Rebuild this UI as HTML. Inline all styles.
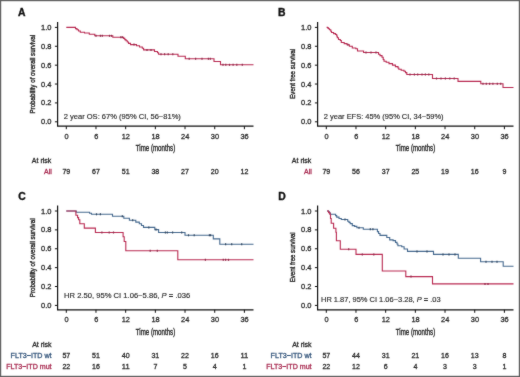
<!DOCTYPE html>
<html><head><meta charset="utf-8"><style>
html,body{margin:0;padding:0;background:#fff;}
#fig{position:relative;width:520px;height:377px;overflow:hidden;background:#fff;}
svg{position:absolute;left:0;top:0;font-family:"Liberation Sans", sans-serif;}
</style></head><body><div id="fig">
<svg width="520" height="377" viewBox="0 0 520 377">
<defs><filter id="bl" x="0" y="0" width="520" height="377" filterUnits="userSpaceOnUse" color-interpolation-filters="sRGB"><feConvolveMatrix order="3" kernelMatrix="1 2 1 2 28 2 1 2 1" edgeMode="duplicate"/></filter></defs>
<g filter="url(#bl)">
<rect x="0.5" y="0.5" width="519" height="376" fill="#fff" stroke="#626262" stroke-width="1.4"/>
<text x="17.90" y="15.50" font-size="10" text-anchor="start" fill="#111" stroke="#111" stroke-width="0.35" font-weight="bold" textLength="7.5" lengthAdjust="spacingAndGlyphs">A</text>
<path d="M57.60,22.00V126.20H253.50" fill="none" stroke="#101010" stroke-width="1.2"/>
<path d="M54.90,121.80H57.60" stroke="#101010" stroke-width="1"/>
<text x="51.50" y="124.30" font-size="7.5" text-anchor="end" fill="#2a2a2a" stroke="#2a2a2a" stroke-width="0.3" font-weight="normal">0.0</text>
<path d="M54.90,102.92H57.60" stroke="#101010" stroke-width="1"/>
<text x="51.50" y="105.42" font-size="7.5" text-anchor="end" fill="#2a2a2a" stroke="#2a2a2a" stroke-width="0.3" font-weight="normal">0.2</text>
<path d="M54.90,84.04H57.60" stroke="#101010" stroke-width="1"/>
<text x="51.50" y="86.54" font-size="7.5" text-anchor="end" fill="#2a2a2a" stroke="#2a2a2a" stroke-width="0.3" font-weight="normal">0.4</text>
<path d="M54.90,65.16H57.60" stroke="#101010" stroke-width="1"/>
<text x="51.50" y="67.66" font-size="7.5" text-anchor="end" fill="#2a2a2a" stroke="#2a2a2a" stroke-width="0.3" font-weight="normal">0.6</text>
<path d="M54.90,46.28H57.60" stroke="#101010" stroke-width="1"/>
<text x="51.50" y="48.78" font-size="7.5" text-anchor="end" fill="#2a2a2a" stroke="#2a2a2a" stroke-width="0.3" font-weight="normal">0.8</text>
<path d="M54.90,27.40H57.60" stroke="#101010" stroke-width="1"/>
<text x="51.50" y="29.90" font-size="7.5" text-anchor="end" fill="#2a2a2a" stroke="#2a2a2a" stroke-width="0.3" font-weight="normal">1.0</text>
<path d="M66.30,126.20V129.20" stroke="#101010" stroke-width="1"/>
<text x="66.50" y="138.80" font-size="8.1" text-anchor="middle" fill="#2a2a2a" stroke="#2a2a2a" stroke-width="0.3" font-weight="normal" textLength="4.11" lengthAdjust="spacingAndGlyphs">0</text>
<path d="M95.98,126.20V129.20" stroke="#101010" stroke-width="1"/>
<text x="96.18" y="138.80" font-size="8.1" text-anchor="middle" fill="#2a2a2a" stroke="#2a2a2a" stroke-width="0.3" font-weight="normal" textLength="4.11" lengthAdjust="spacingAndGlyphs">6</text>
<path d="M125.67,126.20V129.20" stroke="#101010" stroke-width="1"/>
<text x="125.87" y="138.80" font-size="8.1" text-anchor="middle" fill="#2a2a2a" stroke="#2a2a2a" stroke-width="0.3" font-weight="normal" textLength="8.23" lengthAdjust="spacingAndGlyphs">12</text>
<path d="M155.35,126.20V129.20" stroke="#101010" stroke-width="1"/>
<text x="155.55" y="138.80" font-size="8.1" text-anchor="middle" fill="#2a2a2a" stroke="#2a2a2a" stroke-width="0.3" font-weight="normal" textLength="8.23" lengthAdjust="spacingAndGlyphs">18</text>
<path d="M185.03,126.20V129.20" stroke="#101010" stroke-width="1"/>
<text x="185.23" y="138.80" font-size="8.1" text-anchor="middle" fill="#2a2a2a" stroke="#2a2a2a" stroke-width="0.3" font-weight="normal" textLength="8.23" lengthAdjust="spacingAndGlyphs">24</text>
<path d="M214.72,126.20V129.20" stroke="#101010" stroke-width="1"/>
<text x="214.92" y="138.80" font-size="8.1" text-anchor="middle" fill="#2a2a2a" stroke="#2a2a2a" stroke-width="0.3" font-weight="normal" textLength="8.23" lengthAdjust="spacingAndGlyphs">30</text>
<path d="M244.40,126.20V129.20" stroke="#101010" stroke-width="1"/>
<text x="244.60" y="138.80" font-size="8.1" text-anchor="middle" fill="#2a2a2a" stroke="#2a2a2a" stroke-width="0.3" font-weight="normal" textLength="8.23" lengthAdjust="spacingAndGlyphs">36</text>
<text x="155.50" y="151.00" font-size="8.6" text-anchor="middle" fill="#2a2a2a" stroke="#2a2a2a" stroke-width="0.38" font-weight="normal" textLength="39.4" lengthAdjust="spacingAndGlyphs">Time (months)</text>
<text x="0" y="0" font-size="7.4" text-anchor="middle" fill="#2a2a2a" stroke="#2a2a2a" stroke-width="0.4" textLength="78.7" lengthAdjust="spacingAndGlyphs" transform="translate(35.30,74.20) rotate(-90)">Probability of overall survival</text>
<path d="M66.30,27.40H75.50V28.60H77.00V29.80H78.50V31.00H80.30V32.20H84.50V33.00H89.30V34.20H94.80V35.80H112.80V37.20H123.60V38.40H124.80V39.60H126.00V40.80H127.30V42.00H128.50V43.40H130.50V44.60H136.50V45.80H139.50V47.00H142.30V48.30H143.60V49.90H154.50V51.50H157.50V52.80H158.60V54.20H178.00V56.30H185.30V58.70H214.00V61.50H220.50V64.80H253.50" fill="none" stroke="#b92a52" stroke-width="1.1" stroke-linejoin="miter"/>
<path d="M96.00,34.80V36.80" stroke="#8e2848" stroke-width="1.2"/>
<path d="M100.40,34.80V36.80" stroke="#8e2848" stroke-width="1.2"/>
<path d="M102.30,34.80V36.80" stroke="#8e2848" stroke-width="1.2"/>
<path d="M109.50,34.80V36.80" stroke="#8e2848" stroke-width="1.2"/>
<path d="M111.50,34.80V36.80" stroke="#8e2848" stroke-width="1.2"/>
<path d="M120.80,36.20V38.20" stroke="#8e2848" stroke-width="1.2"/>
<path d="M122.30,36.20V38.20" stroke="#8e2848" stroke-width="1.2"/>
<path d="M134.00,43.60V45.60" stroke="#8e2848" stroke-width="1.2"/>
<path d="M147.00,48.90V50.90" stroke="#8e2848" stroke-width="1.2"/>
<path d="M151.00,48.90V50.90" stroke="#8e2848" stroke-width="1.2"/>
<path d="M161.00,53.20V55.20" stroke="#8e2848" stroke-width="1.2"/>
<path d="M164.60,53.20V55.20" stroke="#8e2848" stroke-width="1.2"/>
<path d="M168.20,53.20V55.20" stroke="#8e2848" stroke-width="1.2"/>
<path d="M172.80,53.20V55.20" stroke="#8e2848" stroke-width="1.2"/>
<path d="M189.20,57.70V59.70" stroke="#8e2848" stroke-width="1.2"/>
<path d="M195.60,57.70V59.70" stroke="#8e2848" stroke-width="1.2"/>
<path d="M202.00,57.70V59.70" stroke="#8e2848" stroke-width="1.2"/>
<path d="M208.40,57.70V59.70" stroke="#8e2848" stroke-width="1.2"/>
<path d="M210.30,57.70V59.70" stroke="#8e2848" stroke-width="1.2"/>
<path d="M223.00,63.80V65.80" stroke="#8e2848" stroke-width="1.2"/>
<path d="M225.80,63.80V65.80" stroke="#8e2848" stroke-width="1.2"/>
<path d="M229.50,63.80V65.80" stroke="#8e2848" stroke-width="1.2"/>
<path d="M233.10,63.80V65.80" stroke="#8e2848" stroke-width="1.2"/>
<path d="M236.80,63.80V65.80" stroke="#8e2848" stroke-width="1.2"/>
<path d="M242.30,63.80V65.80" stroke="#8e2848" stroke-width="1.2"/>
<text x="63.70" y="119.20" font-size="7.5" text-anchor="start" fill="#2a2a2a" stroke="#2a2a2a" stroke-width="0.15" font-weight="normal" textLength="117.2" lengthAdjust="spacingAndGlyphs">2 year OS: 67% (95% CI, 56−81%)</text>
<text x="51.30" y="163.00" font-size="7" text-anchor="end" fill="#2a2a2a" stroke="#2a2a2a" stroke-width="0.3" font-weight="normal">At risk</text>
<text x="51.90" y="174.00" font-size="7" text-anchor="end" fill="#a82a50" stroke="#a82a50" stroke-width="0.3" font-weight="normal">All</text>
<text x="66.30" y="174.00" font-size="7.5" text-anchor="middle" fill="#2a2a2a" stroke="#2a2a2a" stroke-width="0.3" font-weight="normal" textLength="7.84" lengthAdjust="spacingAndGlyphs">79</text>
<text x="95.98" y="174.00" font-size="7.5" text-anchor="middle" fill="#2a2a2a" stroke="#2a2a2a" stroke-width="0.3" font-weight="normal" textLength="7.84" lengthAdjust="spacingAndGlyphs">67</text>
<text x="125.67" y="174.00" font-size="7.5" text-anchor="middle" fill="#2a2a2a" stroke="#2a2a2a" stroke-width="0.3" font-weight="normal" textLength="7.84" lengthAdjust="spacingAndGlyphs">51</text>
<text x="155.35" y="174.00" font-size="7.5" text-anchor="middle" fill="#2a2a2a" stroke="#2a2a2a" stroke-width="0.3" font-weight="normal" textLength="7.84" lengthAdjust="spacingAndGlyphs">38</text>
<text x="185.03" y="174.00" font-size="7.5" text-anchor="middle" fill="#2a2a2a" stroke="#2a2a2a" stroke-width="0.3" font-weight="normal" textLength="7.84" lengthAdjust="spacingAndGlyphs">27</text>
<text x="214.72" y="174.00" font-size="7.5" text-anchor="middle" fill="#2a2a2a" stroke="#2a2a2a" stroke-width="0.3" font-weight="normal" textLength="7.84" lengthAdjust="spacingAndGlyphs">20</text>
<text x="244.40" y="174.00" font-size="7.5" text-anchor="middle" fill="#2a2a2a" stroke="#2a2a2a" stroke-width="0.3" font-weight="normal" textLength="7.84" lengthAdjust="spacingAndGlyphs">12</text>
<text x="278.00" y="15.70" font-size="10" text-anchor="start" fill="#111" stroke="#111" stroke-width="0.35" font-weight="bold" textLength="7.5" lengthAdjust="spacingAndGlyphs">B</text>
<path d="M317.60,22.00V126.20H513.50" fill="none" stroke="#101010" stroke-width="1.2"/>
<path d="M314.90,121.80H317.60" stroke="#101010" stroke-width="1"/>
<text x="311.50" y="124.30" font-size="7.5" text-anchor="end" fill="#2a2a2a" stroke="#2a2a2a" stroke-width="0.3" font-weight="normal">0.0</text>
<path d="M314.90,102.92H317.60" stroke="#101010" stroke-width="1"/>
<text x="311.50" y="105.42" font-size="7.5" text-anchor="end" fill="#2a2a2a" stroke="#2a2a2a" stroke-width="0.3" font-weight="normal">0.2</text>
<path d="M314.90,84.04H317.60" stroke="#101010" stroke-width="1"/>
<text x="311.50" y="86.54" font-size="7.5" text-anchor="end" fill="#2a2a2a" stroke="#2a2a2a" stroke-width="0.3" font-weight="normal">0.4</text>
<path d="M314.90,65.16H317.60" stroke="#101010" stroke-width="1"/>
<text x="311.50" y="67.66" font-size="7.5" text-anchor="end" fill="#2a2a2a" stroke="#2a2a2a" stroke-width="0.3" font-weight="normal">0.6</text>
<path d="M314.90,46.28H317.60" stroke="#101010" stroke-width="1"/>
<text x="311.50" y="48.78" font-size="7.5" text-anchor="end" fill="#2a2a2a" stroke="#2a2a2a" stroke-width="0.3" font-weight="normal">0.8</text>
<path d="M314.90,27.40H317.60" stroke="#101010" stroke-width="1"/>
<text x="311.50" y="29.90" font-size="7.5" text-anchor="end" fill="#2a2a2a" stroke="#2a2a2a" stroke-width="0.3" font-weight="normal">1.0</text>
<path d="M326.30,126.20V129.20" stroke="#101010" stroke-width="1"/>
<text x="326.50" y="138.80" font-size="8.1" text-anchor="middle" fill="#2a2a2a" stroke="#2a2a2a" stroke-width="0.3" font-weight="normal" textLength="4.11" lengthAdjust="spacingAndGlyphs">0</text>
<path d="M355.98,126.20V129.20" stroke="#101010" stroke-width="1"/>
<text x="356.18" y="138.80" font-size="8.1" text-anchor="middle" fill="#2a2a2a" stroke="#2a2a2a" stroke-width="0.3" font-weight="normal" textLength="4.11" lengthAdjust="spacingAndGlyphs">6</text>
<path d="M385.67,126.20V129.20" stroke="#101010" stroke-width="1"/>
<text x="385.87" y="138.80" font-size="8.1" text-anchor="middle" fill="#2a2a2a" stroke="#2a2a2a" stroke-width="0.3" font-weight="normal" textLength="8.23" lengthAdjust="spacingAndGlyphs">12</text>
<path d="M415.35,126.20V129.20" stroke="#101010" stroke-width="1"/>
<text x="415.55" y="138.80" font-size="8.1" text-anchor="middle" fill="#2a2a2a" stroke="#2a2a2a" stroke-width="0.3" font-weight="normal" textLength="8.23" lengthAdjust="spacingAndGlyphs">18</text>
<path d="M445.03,126.20V129.20" stroke="#101010" stroke-width="1"/>
<text x="445.23" y="138.80" font-size="8.1" text-anchor="middle" fill="#2a2a2a" stroke="#2a2a2a" stroke-width="0.3" font-weight="normal" textLength="8.23" lengthAdjust="spacingAndGlyphs">24</text>
<path d="M474.72,126.20V129.20" stroke="#101010" stroke-width="1"/>
<text x="474.92" y="138.80" font-size="8.1" text-anchor="middle" fill="#2a2a2a" stroke="#2a2a2a" stroke-width="0.3" font-weight="normal" textLength="8.23" lengthAdjust="spacingAndGlyphs">30</text>
<path d="M504.40,126.20V129.20" stroke="#101010" stroke-width="1"/>
<text x="504.60" y="138.80" font-size="8.1" text-anchor="middle" fill="#2a2a2a" stroke="#2a2a2a" stroke-width="0.3" font-weight="normal" textLength="8.23" lengthAdjust="spacingAndGlyphs">36</text>
<text x="415.50" y="151.00" font-size="8.6" text-anchor="middle" fill="#2a2a2a" stroke="#2a2a2a" stroke-width="0.38" font-weight="normal" textLength="39.4" lengthAdjust="spacingAndGlyphs">Time (months)</text>
<text x="0" y="0" font-size="7.4" text-anchor="middle" fill="#2a2a2a" stroke="#2a2a2a" stroke-width="0.4" textLength="50.0" lengthAdjust="spacingAndGlyphs" transform="translate(295.30,73.70) rotate(-90)">Event free survival</text>
<path d="M326.60,27.40H327.50V27.90H328.50V28.80H329.50V29.80H330.80V31.20H331.50V32.50H333.60V33.60H335.60V34.50H336.70V36.00H337.30V37.80H338.50V39.50H340.30V40.50H341.30V42.50H344.20V43.60H347.00V44.80H349.40V46.20H352.30V48.00H355.80V48.80H357.50V51.00H363.60V52.50H378.50V54.20H380.00V55.60H382.00V57.30H383.20V59.50H384.00V61.20H386.20V62.20H389.00V63.60H392.50V65.10H395.40V66.60H398.00V68.00H398.80V69.30H401.20V70.20H404.00V71.20H405.50V72.60H406.80V74.50H432.50V78.50H458.00V81.40H480.80V83.80H503.00V87.50H513.50" fill="none" stroke="#b92a52" stroke-width="1.1" stroke-linejoin="miter"/>
<path d="M348.00,43.80V45.80" stroke="#8e2848" stroke-width="1.2"/>
<path d="M366.00,51.50V53.50" stroke="#8e2848" stroke-width="1.2"/>
<path d="M371.00,51.50V53.50" stroke="#8e2848" stroke-width="1.2"/>
<path d="M376.00,51.50V53.50" stroke="#8e2848" stroke-width="1.2"/>
<path d="M410.00,73.50V75.50" stroke="#8e2848" stroke-width="1.2"/>
<path d="M414.40,73.50V75.50" stroke="#8e2848" stroke-width="1.2"/>
<path d="M417.70,73.50V75.50" stroke="#8e2848" stroke-width="1.2"/>
<path d="M422.00,73.50V75.50" stroke="#8e2848" stroke-width="1.2"/>
<path d="M425.40,73.50V75.50" stroke="#8e2848" stroke-width="1.2"/>
<path d="M428.80,73.50V75.50" stroke="#8e2848" stroke-width="1.2"/>
<path d="M436.50,77.50V79.50" stroke="#8e2848" stroke-width="1.2"/>
<path d="M441.00,77.50V79.50" stroke="#8e2848" stroke-width="1.2"/>
<path d="M445.40,77.50V79.50" stroke="#8e2848" stroke-width="1.2"/>
<path d="M449.80,77.50V79.50" stroke="#8e2848" stroke-width="1.2"/>
<path d="M454.20,77.50V79.50" stroke="#8e2848" stroke-width="1.2"/>
<path d="M483.00,82.80V84.80" stroke="#8e2848" stroke-width="1.2"/>
<path d="M486.30,82.80V84.80" stroke="#8e2848" stroke-width="1.2"/>
<path d="M489.60,82.80V84.80" stroke="#8e2848" stroke-width="1.2"/>
<path d="M492.90,82.80V84.80" stroke="#8e2848" stroke-width="1.2"/>
<path d="M497.30,82.80V84.80" stroke="#8e2848" stroke-width="1.2"/>
<path d="M500.70,82.80V84.80" stroke="#8e2848" stroke-width="1.2"/>
<text x="323.80" y="118.70" font-size="7.5" text-anchor="start" fill="#2a2a2a" stroke="#2a2a2a" stroke-width="0.15" font-weight="normal" textLength="119.8" lengthAdjust="spacingAndGlyphs">2 year EFS: 45% (95% CI, 34−59%)</text>
<text x="311.30" y="163.00" font-size="7" text-anchor="end" fill="#2a2a2a" stroke="#2a2a2a" stroke-width="0.3" font-weight="normal">At risk</text>
<text x="311.90" y="174.00" font-size="7" text-anchor="end" fill="#a82a50" stroke="#a82a50" stroke-width="0.3" font-weight="normal">All</text>
<text x="326.30" y="174.00" font-size="7.5" text-anchor="middle" fill="#2a2a2a" stroke="#2a2a2a" stroke-width="0.3" font-weight="normal" textLength="7.84" lengthAdjust="spacingAndGlyphs">79</text>
<text x="355.98" y="174.00" font-size="7.5" text-anchor="middle" fill="#2a2a2a" stroke="#2a2a2a" stroke-width="0.3" font-weight="normal" textLength="7.84" lengthAdjust="spacingAndGlyphs">56</text>
<text x="385.67" y="174.00" font-size="7.5" text-anchor="middle" fill="#2a2a2a" stroke="#2a2a2a" stroke-width="0.3" font-weight="normal" textLength="7.84" lengthAdjust="spacingAndGlyphs">37</text>
<text x="415.35" y="174.00" font-size="7.5" text-anchor="middle" fill="#2a2a2a" stroke="#2a2a2a" stroke-width="0.3" font-weight="normal" textLength="7.84" lengthAdjust="spacingAndGlyphs">25</text>
<text x="445.03" y="174.00" font-size="7.5" text-anchor="middle" fill="#2a2a2a" stroke="#2a2a2a" stroke-width="0.3" font-weight="normal" textLength="7.84" lengthAdjust="spacingAndGlyphs">19</text>
<text x="474.72" y="174.00" font-size="7.5" text-anchor="middle" fill="#2a2a2a" stroke="#2a2a2a" stroke-width="0.3" font-weight="normal" textLength="7.84" lengthAdjust="spacingAndGlyphs">16</text>
<text x="504.40" y="174.00" font-size="7.5" text-anchor="middle" fill="#2a2a2a" stroke="#2a2a2a" stroke-width="0.3" font-weight="normal" textLength="3.92" lengthAdjust="spacingAndGlyphs">9</text>
<text x="18.20" y="200.00" font-size="10" text-anchor="start" fill="#111" stroke="#111" stroke-width="0.35" font-weight="bold" textLength="7.5" lengthAdjust="spacingAndGlyphs">C</text>
<path d="M57.60,205.60V309.80H253.50" fill="none" stroke="#101010" stroke-width="1.2"/>
<path d="M54.90,305.40H57.60" stroke="#101010" stroke-width="1"/>
<text x="51.50" y="307.90" font-size="7.5" text-anchor="end" fill="#2a2a2a" stroke="#2a2a2a" stroke-width="0.3" font-weight="normal">0.0</text>
<path d="M54.90,286.52H57.60" stroke="#101010" stroke-width="1"/>
<text x="51.50" y="289.02" font-size="7.5" text-anchor="end" fill="#2a2a2a" stroke="#2a2a2a" stroke-width="0.3" font-weight="normal">0.2</text>
<path d="M54.90,267.64H57.60" stroke="#101010" stroke-width="1"/>
<text x="51.50" y="270.14" font-size="7.5" text-anchor="end" fill="#2a2a2a" stroke="#2a2a2a" stroke-width="0.3" font-weight="normal">0.4</text>
<path d="M54.90,248.76H57.60" stroke="#101010" stroke-width="1"/>
<text x="51.50" y="251.26" font-size="7.5" text-anchor="end" fill="#2a2a2a" stroke="#2a2a2a" stroke-width="0.3" font-weight="normal">0.6</text>
<path d="M54.90,229.88H57.60" stroke="#101010" stroke-width="1"/>
<text x="51.50" y="232.38" font-size="7.5" text-anchor="end" fill="#2a2a2a" stroke="#2a2a2a" stroke-width="0.3" font-weight="normal">0.8</text>
<path d="M54.90,211.00H57.60" stroke="#101010" stroke-width="1"/>
<text x="51.50" y="213.50" font-size="7.5" text-anchor="end" fill="#2a2a2a" stroke="#2a2a2a" stroke-width="0.3" font-weight="normal">1.0</text>
<path d="M66.30,309.80V312.80" stroke="#101010" stroke-width="1"/>
<text x="66.50" y="322.40" font-size="8.1" text-anchor="middle" fill="#2a2a2a" stroke="#2a2a2a" stroke-width="0.3" font-weight="normal" textLength="4.11" lengthAdjust="spacingAndGlyphs">0</text>
<path d="M95.98,309.80V312.80" stroke="#101010" stroke-width="1"/>
<text x="96.18" y="322.40" font-size="8.1" text-anchor="middle" fill="#2a2a2a" stroke="#2a2a2a" stroke-width="0.3" font-weight="normal" textLength="4.11" lengthAdjust="spacingAndGlyphs">6</text>
<path d="M125.67,309.80V312.80" stroke="#101010" stroke-width="1"/>
<text x="125.87" y="322.40" font-size="8.1" text-anchor="middle" fill="#2a2a2a" stroke="#2a2a2a" stroke-width="0.3" font-weight="normal" textLength="8.23" lengthAdjust="spacingAndGlyphs">12</text>
<path d="M155.35,309.80V312.80" stroke="#101010" stroke-width="1"/>
<text x="155.55" y="322.40" font-size="8.1" text-anchor="middle" fill="#2a2a2a" stroke="#2a2a2a" stroke-width="0.3" font-weight="normal" textLength="8.23" lengthAdjust="spacingAndGlyphs">18</text>
<path d="M185.03,309.80V312.80" stroke="#101010" stroke-width="1"/>
<text x="185.23" y="322.40" font-size="8.1" text-anchor="middle" fill="#2a2a2a" stroke="#2a2a2a" stroke-width="0.3" font-weight="normal" textLength="8.23" lengthAdjust="spacingAndGlyphs">24</text>
<path d="M214.72,309.80V312.80" stroke="#101010" stroke-width="1"/>
<text x="214.92" y="322.40" font-size="8.1" text-anchor="middle" fill="#2a2a2a" stroke="#2a2a2a" stroke-width="0.3" font-weight="normal" textLength="8.23" lengthAdjust="spacingAndGlyphs">30</text>
<path d="M244.40,309.80V312.80" stroke="#101010" stroke-width="1"/>
<text x="244.60" y="322.40" font-size="8.1" text-anchor="middle" fill="#2a2a2a" stroke="#2a2a2a" stroke-width="0.3" font-weight="normal" textLength="8.23" lengthAdjust="spacingAndGlyphs">36</text>
<text x="155.50" y="334.60" font-size="8.6" text-anchor="middle" fill="#2a2a2a" stroke="#2a2a2a" stroke-width="0.38" font-weight="normal" textLength="39.4" lengthAdjust="spacingAndGlyphs">Time (months)</text>
<text x="0" y="0" font-size="7.4" text-anchor="middle" fill="#2a2a2a" stroke="#2a2a2a" stroke-width="0.4" textLength="78.7" lengthAdjust="spacingAndGlyphs" transform="translate(35.30,257.80) rotate(-90)">Probability of overall survival</text>
<path d="M66.30,211.00H76.20V212.30H89.60V213.30H91.50V214.30H112.50V216.20H123.80V218.20H129.40V220.20H135.80V222.10H139.30V223.70H141.50V225.50H143.50V227.40H154.80V229.60H158.60V232.50H185.00V235.30H213.30V238.90H219.80V244.20H253.50" fill="none" stroke="#45698f" stroke-width="1.1" stroke-linejoin="miter"/>
<path d="M96.50,213.30V215.30" stroke="#2f4660" stroke-width="1.2"/>
<path d="M100.40,213.30V215.30" stroke="#2f4660" stroke-width="1.2"/>
<path d="M122.30,215.20V217.20" stroke="#2f4660" stroke-width="1.2"/>
<path d="M132.70,219.20V221.20" stroke="#2f4660" stroke-width="1.2"/>
<path d="M148.80,226.40V228.40" stroke="#2f4660" stroke-width="1.2"/>
<path d="M156.00,228.60V230.60" stroke="#2f4660" stroke-width="1.2"/>
<path d="M165.40,231.50V233.50" stroke="#2f4660" stroke-width="1.2"/>
<path d="M167.30,231.50V233.50" stroke="#2f4660" stroke-width="1.2"/>
<path d="M172.60,231.50V233.50" stroke="#2f4660" stroke-width="1.2"/>
<path d="M181.70,231.50V233.50" stroke="#2f4660" stroke-width="1.2"/>
<path d="M188.50,234.30V236.30" stroke="#2f4660" stroke-width="1.2"/>
<path d="M194.20,234.30V236.30" stroke="#2f4660" stroke-width="1.2"/>
<path d="M209.40,234.30V236.30" stroke="#2f4660" stroke-width="1.2"/>
<path d="M210.60,234.30V236.30" stroke="#2f4660" stroke-width="1.2"/>
<path d="M225.60,243.20V245.20" stroke="#2f4660" stroke-width="1.2"/>
<path d="M231.70,243.20V245.20" stroke="#2f4660" stroke-width="1.2"/>
<path d="M241.70,243.20V245.20" stroke="#2f4660" stroke-width="1.2"/>
<path d="M66.30,211.00H75.90V215.20H77.60V217.60H78.60V219.80H79.80V223.80H84.30V228.10H95.40V232.50H123.10V236.80H124.20V241.50H125.80V250.70H177.80V259.80H253.50" fill="none" stroke="#b92a52" stroke-width="1.1" stroke-linejoin="miter"/>
<path d="M101.90,231.50V233.50" stroke="#8e2848" stroke-width="1.2"/>
<path d="M109.20,231.50V233.50" stroke="#8e2848" stroke-width="1.2"/>
<path d="M113.50,231.50V233.50" stroke="#8e2848" stroke-width="1.2"/>
<path d="M150.20,249.70V251.70" stroke="#8e2848" stroke-width="1.2"/>
<path d="M157.30,249.70V251.70" stroke="#8e2848" stroke-width="1.2"/>
<path d="M205.40,258.80V260.80" stroke="#8e2848" stroke-width="1.2"/>
<path d="M223.30,258.80V260.80" stroke="#8e2848" stroke-width="1.2"/>
<path d="M225.60,258.80V260.80" stroke="#8e2848" stroke-width="1.2"/>
<path d="M228.50,258.80V260.80" stroke="#8e2848" stroke-width="1.2"/>
<text x="64.10" y="297.70" font-size="7.5" text-anchor="start" fill="#2a2a2a" stroke="#2a2a2a" stroke-width="0.15" font-weight="normal" textLength="126.1" lengthAdjust="spacingAndGlyphs">HR 2.50, 95% CI 1.06−5.86, <tspan font-style="italic">P</tspan> <tspan font-weight="bold">=</tspan> .036</text>
<text x="51.60" y="346.50" font-size="7" text-anchor="end" fill="#2a2a2a" stroke="#2a2a2a" stroke-width="0.3" font-weight="normal">At risk</text>
<text x="51.60" y="357.70" font-size="7.5" text-anchor="end" fill="#35567c" stroke="#35567c" stroke-width="0.3" font-weight="normal" textLength="41.0" lengthAdjust="spacingAndGlyphs">FLT3−ITD wt</text>
<text x="51.60" y="368.70" font-size="7.5" text-anchor="end" fill="#a82a50" stroke="#a82a50" stroke-width="0.3" font-weight="normal" textLength="45.4" lengthAdjust="spacingAndGlyphs">FLT3−ITD mut</text>
<text x="66.30" y="357.80" font-size="7.5" text-anchor="middle" fill="#2a2a2a" stroke="#2a2a2a" stroke-width="0.3" font-weight="normal" textLength="7.84" lengthAdjust="spacingAndGlyphs">57</text>
<text x="95.98" y="357.80" font-size="7.5" text-anchor="middle" fill="#2a2a2a" stroke="#2a2a2a" stroke-width="0.3" font-weight="normal" textLength="7.84" lengthAdjust="spacingAndGlyphs">51</text>
<text x="125.67" y="357.80" font-size="7.5" text-anchor="middle" fill="#2a2a2a" stroke="#2a2a2a" stroke-width="0.3" font-weight="normal" textLength="7.84" lengthAdjust="spacingAndGlyphs">40</text>
<text x="155.35" y="357.80" font-size="7.5" text-anchor="middle" fill="#2a2a2a" stroke="#2a2a2a" stroke-width="0.3" font-weight="normal" textLength="7.84" lengthAdjust="spacingAndGlyphs">31</text>
<text x="185.03" y="357.80" font-size="7.5" text-anchor="middle" fill="#2a2a2a" stroke="#2a2a2a" stroke-width="0.3" font-weight="normal" textLength="7.84" lengthAdjust="spacingAndGlyphs">22</text>
<text x="214.72" y="357.80" font-size="7.5" text-anchor="middle" fill="#2a2a2a" stroke="#2a2a2a" stroke-width="0.3" font-weight="normal" textLength="7.84" lengthAdjust="spacingAndGlyphs">16</text>
<text x="244.40" y="357.80" font-size="7.5" text-anchor="middle" fill="#2a2a2a" stroke="#2a2a2a" stroke-width="0.3" font-weight="normal" textLength="7.84" lengthAdjust="spacingAndGlyphs">11</text>
<text x="66.30" y="368.90" font-size="7.5" text-anchor="middle" fill="#2a2a2a" stroke="#2a2a2a" stroke-width="0.3" font-weight="normal" textLength="7.84" lengthAdjust="spacingAndGlyphs">22</text>
<text x="95.98" y="368.90" font-size="7.5" text-anchor="middle" fill="#2a2a2a" stroke="#2a2a2a" stroke-width="0.3" font-weight="normal" textLength="7.84" lengthAdjust="spacingAndGlyphs">16</text>
<text x="125.67" y="368.90" font-size="7.5" text-anchor="middle" fill="#2a2a2a" stroke="#2a2a2a" stroke-width="0.3" font-weight="normal" textLength="7.84" lengthAdjust="spacingAndGlyphs">11</text>
<text x="155.35" y="368.90" font-size="7.5" text-anchor="middle" fill="#2a2a2a" stroke="#2a2a2a" stroke-width="0.3" font-weight="normal" textLength="3.92" lengthAdjust="spacingAndGlyphs">7</text>
<text x="185.03" y="368.90" font-size="7.5" text-anchor="middle" fill="#2a2a2a" stroke="#2a2a2a" stroke-width="0.3" font-weight="normal" textLength="3.92" lengthAdjust="spacingAndGlyphs">5</text>
<text x="214.72" y="368.90" font-size="7.5" text-anchor="middle" fill="#2a2a2a" stroke="#2a2a2a" stroke-width="0.3" font-weight="normal" textLength="3.92" lengthAdjust="spacingAndGlyphs">4</text>
<text x="244.40" y="368.90" font-size="7.5" text-anchor="middle" fill="#2a2a2a" stroke="#2a2a2a" stroke-width="0.3" font-weight="normal" textLength="3.92" lengthAdjust="spacingAndGlyphs">1</text>
<text x="278.20" y="200.00" font-size="10" text-anchor="start" fill="#111" stroke="#111" stroke-width="0.35" font-weight="bold" textLength="7.5" lengthAdjust="spacingAndGlyphs">D</text>
<path d="M317.60,205.60V309.80H513.50" fill="none" stroke="#101010" stroke-width="1.2"/>
<path d="M314.90,305.40H317.60" stroke="#101010" stroke-width="1"/>
<text x="311.50" y="307.90" font-size="7.5" text-anchor="end" fill="#2a2a2a" stroke="#2a2a2a" stroke-width="0.3" font-weight="normal">0.0</text>
<path d="M314.90,286.52H317.60" stroke="#101010" stroke-width="1"/>
<text x="311.50" y="289.02" font-size="7.5" text-anchor="end" fill="#2a2a2a" stroke="#2a2a2a" stroke-width="0.3" font-weight="normal">0.2</text>
<path d="M314.90,267.64H317.60" stroke="#101010" stroke-width="1"/>
<text x="311.50" y="270.14" font-size="7.5" text-anchor="end" fill="#2a2a2a" stroke="#2a2a2a" stroke-width="0.3" font-weight="normal">0.4</text>
<path d="M314.90,248.76H317.60" stroke="#101010" stroke-width="1"/>
<text x="311.50" y="251.26" font-size="7.5" text-anchor="end" fill="#2a2a2a" stroke="#2a2a2a" stroke-width="0.3" font-weight="normal">0.6</text>
<path d="M314.90,229.88H317.60" stroke="#101010" stroke-width="1"/>
<text x="311.50" y="232.38" font-size="7.5" text-anchor="end" fill="#2a2a2a" stroke="#2a2a2a" stroke-width="0.3" font-weight="normal">0.8</text>
<path d="M314.90,211.00H317.60" stroke="#101010" stroke-width="1"/>
<text x="311.50" y="213.50" font-size="7.5" text-anchor="end" fill="#2a2a2a" stroke="#2a2a2a" stroke-width="0.3" font-weight="normal">1.0</text>
<path d="M326.30,309.80V312.80" stroke="#101010" stroke-width="1"/>
<text x="326.50" y="322.40" font-size="8.1" text-anchor="middle" fill="#2a2a2a" stroke="#2a2a2a" stroke-width="0.3" font-weight="normal" textLength="4.11" lengthAdjust="spacingAndGlyphs">0</text>
<path d="M355.98,309.80V312.80" stroke="#101010" stroke-width="1"/>
<text x="356.18" y="322.40" font-size="8.1" text-anchor="middle" fill="#2a2a2a" stroke="#2a2a2a" stroke-width="0.3" font-weight="normal" textLength="4.11" lengthAdjust="spacingAndGlyphs">6</text>
<path d="M385.67,309.80V312.80" stroke="#101010" stroke-width="1"/>
<text x="385.87" y="322.40" font-size="8.1" text-anchor="middle" fill="#2a2a2a" stroke="#2a2a2a" stroke-width="0.3" font-weight="normal" textLength="8.23" lengthAdjust="spacingAndGlyphs">12</text>
<path d="M415.35,309.80V312.80" stroke="#101010" stroke-width="1"/>
<text x="415.55" y="322.40" font-size="8.1" text-anchor="middle" fill="#2a2a2a" stroke="#2a2a2a" stroke-width="0.3" font-weight="normal" textLength="8.23" lengthAdjust="spacingAndGlyphs">18</text>
<path d="M445.03,309.80V312.80" stroke="#101010" stroke-width="1"/>
<text x="445.23" y="322.40" font-size="8.1" text-anchor="middle" fill="#2a2a2a" stroke="#2a2a2a" stroke-width="0.3" font-weight="normal" textLength="8.23" lengthAdjust="spacingAndGlyphs">24</text>
<path d="M474.72,309.80V312.80" stroke="#101010" stroke-width="1"/>
<text x="474.92" y="322.40" font-size="8.1" text-anchor="middle" fill="#2a2a2a" stroke="#2a2a2a" stroke-width="0.3" font-weight="normal" textLength="8.23" lengthAdjust="spacingAndGlyphs">30</text>
<path d="M504.40,309.80V312.80" stroke="#101010" stroke-width="1"/>
<text x="504.60" y="322.40" font-size="8.1" text-anchor="middle" fill="#2a2a2a" stroke="#2a2a2a" stroke-width="0.3" font-weight="normal" textLength="8.23" lengthAdjust="spacingAndGlyphs">36</text>
<text x="415.50" y="334.60" font-size="8.6" text-anchor="middle" fill="#2a2a2a" stroke="#2a2a2a" stroke-width="0.38" font-weight="normal" textLength="39.4" lengthAdjust="spacingAndGlyphs">Time (months)</text>
<text x="0" y="0" font-size="7.4" text-anchor="middle" fill="#2a2a2a" stroke="#2a2a2a" stroke-width="0.4" textLength="50.0" lengthAdjust="spacingAndGlyphs" transform="translate(295.30,257.30) rotate(-90)">Event free survival</text>
<path d="M327.00,211.00H328.50V211.80H329.50V213.00H330.40V214.20H335.60V215.60H336.70V217.10H339.00V218.50H341.30V219.50H347.70V221.20H349.00V222.40H350.20V223.60H352.30V225.60H354.60V226.40H356.90V227.80H363.30V229.30H377.40V231.60H378.60V233.50H380.00V235.40H386.80V237.50H389.70V239.90H393.10V240.60H395.50V242.40H397.00V244.00H397.90V245.70H401.70V246.80H404.10V249.00H407.50V251.40H433.50V254.40H458.30V258.30H480.60V261.70H503.20V266.30H513.50" fill="none" stroke="#45698f" stroke-width="1.1" stroke-linejoin="miter"/>
<path d="M345.00,218.50V220.50" stroke="#2f4660" stroke-width="1.2"/>
<path d="M359.00,226.80V228.80" stroke="#2f4660" stroke-width="1.2"/>
<path d="M370.30,228.30V230.30" stroke="#2f4660" stroke-width="1.2"/>
<path d="M372.90,228.30V230.30" stroke="#2f4660" stroke-width="1.2"/>
<path d="M417.00,250.40V252.40" stroke="#2f4660" stroke-width="1.2"/>
<path d="M427.00,250.40V252.40" stroke="#2f4660" stroke-width="1.2"/>
<path d="M443.00,253.40V255.40" stroke="#2f4660" stroke-width="1.2"/>
<path d="M449.00,253.40V255.40" stroke="#2f4660" stroke-width="1.2"/>
<path d="M455.00,253.40V255.40" stroke="#2f4660" stroke-width="1.2"/>
<path d="M486.00,260.70V262.70" stroke="#2f4660" stroke-width="1.2"/>
<path d="M492.00,260.70V262.70" stroke="#2f4660" stroke-width="1.2"/>
<path d="M497.00,260.70V262.70" stroke="#2f4660" stroke-width="1.2"/>
<path d="M327.00,211.00H328.60V212.60H329.80V214.30H330.50V218.50H331.20V223.20H333.60V228.20H335.90V232.30H336.40V240.70H340.30V249.20H356.00V254.40H382.30V271.00H405.80V276.60H432.50V283.90H513.50" fill="none" stroke="#b92a52" stroke-width="1.1" stroke-linejoin="miter"/>
<path d="M348.70,248.20V250.20" stroke="#8e2848" stroke-width="1.2"/>
<path d="M362.30,253.40V255.40" stroke="#8e2848" stroke-width="1.2"/>
<path d="M373.80,253.40V255.40" stroke="#8e2848" stroke-width="1.2"/>
<path d="M411.00,275.60V277.60" stroke="#8e2848" stroke-width="1.2"/>
<path d="M485.00,282.90V284.90" stroke="#8e2848" stroke-width="1.2"/>
<path d="M488.00,282.90V284.90" stroke="#8e2848" stroke-width="1.2"/>
<text x="321.00" y="301.80" font-size="7.5" text-anchor="start" fill="#2a2a2a" stroke="#2a2a2a" stroke-width="0.15" font-weight="normal" textLength="119.6" lengthAdjust="spacingAndGlyphs">HR 1.87, 95% CI 1.06−3.28, <tspan font-style="italic">P</tspan> <tspan font-weight="bold">=</tspan> .03</text>
<text x="311.60" y="346.50" font-size="7" text-anchor="end" fill="#2a2a2a" stroke="#2a2a2a" stroke-width="0.3" font-weight="normal">At risk</text>
<text x="311.60" y="357.70" font-size="7.5" text-anchor="end" fill="#35567c" stroke="#35567c" stroke-width="0.3" font-weight="normal" textLength="41.0" lengthAdjust="spacingAndGlyphs">FLT3−ITD wt</text>
<text x="311.60" y="368.70" font-size="7.5" text-anchor="end" fill="#a82a50" stroke="#a82a50" stroke-width="0.3" font-weight="normal" textLength="45.4" lengthAdjust="spacingAndGlyphs">FLT3−ITD mut</text>
<text x="326.30" y="357.80" font-size="7.5" text-anchor="middle" fill="#2a2a2a" stroke="#2a2a2a" stroke-width="0.3" font-weight="normal" textLength="7.84" lengthAdjust="spacingAndGlyphs">57</text>
<text x="355.98" y="357.80" font-size="7.5" text-anchor="middle" fill="#2a2a2a" stroke="#2a2a2a" stroke-width="0.3" font-weight="normal" textLength="7.84" lengthAdjust="spacingAndGlyphs">44</text>
<text x="385.67" y="357.80" font-size="7.5" text-anchor="middle" fill="#2a2a2a" stroke="#2a2a2a" stroke-width="0.3" font-weight="normal" textLength="7.84" lengthAdjust="spacingAndGlyphs">31</text>
<text x="415.35" y="357.80" font-size="7.5" text-anchor="middle" fill="#2a2a2a" stroke="#2a2a2a" stroke-width="0.3" font-weight="normal" textLength="7.84" lengthAdjust="spacingAndGlyphs">21</text>
<text x="445.03" y="357.80" font-size="7.5" text-anchor="middle" fill="#2a2a2a" stroke="#2a2a2a" stroke-width="0.3" font-weight="normal" textLength="7.84" lengthAdjust="spacingAndGlyphs">16</text>
<text x="474.72" y="357.80" font-size="7.5" text-anchor="middle" fill="#2a2a2a" stroke="#2a2a2a" stroke-width="0.3" font-weight="normal" textLength="7.84" lengthAdjust="spacingAndGlyphs">13</text>
<text x="504.40" y="357.80" font-size="7.5" text-anchor="middle" fill="#2a2a2a" stroke="#2a2a2a" stroke-width="0.3" font-weight="normal" textLength="3.92" lengthAdjust="spacingAndGlyphs">8</text>
<text x="326.30" y="368.90" font-size="7.5" text-anchor="middle" fill="#2a2a2a" stroke="#2a2a2a" stroke-width="0.3" font-weight="normal" textLength="7.84" lengthAdjust="spacingAndGlyphs">22</text>
<text x="355.98" y="368.90" font-size="7.5" text-anchor="middle" fill="#2a2a2a" stroke="#2a2a2a" stroke-width="0.3" font-weight="normal" textLength="7.84" lengthAdjust="spacingAndGlyphs">12</text>
<text x="385.67" y="368.90" font-size="7.5" text-anchor="middle" fill="#2a2a2a" stroke="#2a2a2a" stroke-width="0.3" font-weight="normal" textLength="3.92" lengthAdjust="spacingAndGlyphs">6</text>
<text x="415.35" y="368.90" font-size="7.5" text-anchor="middle" fill="#2a2a2a" stroke="#2a2a2a" stroke-width="0.3" font-weight="normal" textLength="3.92" lengthAdjust="spacingAndGlyphs">4</text>
<text x="445.03" y="368.90" font-size="7.5" text-anchor="middle" fill="#2a2a2a" stroke="#2a2a2a" stroke-width="0.3" font-weight="normal" textLength="3.92" lengthAdjust="spacingAndGlyphs">3</text>
<text x="474.72" y="368.90" font-size="7.5" text-anchor="middle" fill="#2a2a2a" stroke="#2a2a2a" stroke-width="0.3" font-weight="normal" textLength="3.92" lengthAdjust="spacingAndGlyphs">3</text>
<text x="504.40" y="368.90" font-size="7.5" text-anchor="middle" fill="#2a2a2a" stroke="#2a2a2a" stroke-width="0.3" font-weight="normal" textLength="3.92" lengthAdjust="spacingAndGlyphs">1</text>
</g>
</svg></div></body></html>
